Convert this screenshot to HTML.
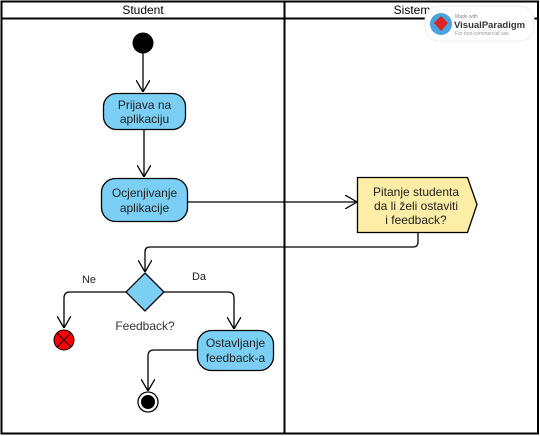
<!DOCTYPE html>
<html><head><meta charset="utf-8"><style>
html,body{margin:0;padding:0;background:#fff;}
svg{display:block;font-family:"Liberation Sans",Arial,sans-serif;}
</style></head><body>
<svg width="540" height="436" viewBox="0 0 540 436" xmlns="http://www.w3.org/2000/svg">
<defs>
<marker id="a" viewBox="0 0 12 14" refX="12" refY="7" markerWidth="12" markerHeight="14" markerUnits="userSpaceOnUse" orient="auto">
<path d="M0,0 L12,7 L0,14" fill="none" stroke="#000" stroke-width="1.3"/>
</marker>
</defs>
<rect x="1.5" y="1.5" width="536.5" height="432" fill="#fff" stroke="#000" stroke-width="2"/>
<line x1="1" y1="18.5" x2="538" y2="18.5" stroke="#000" stroke-width="2"/>
<line x1="284.5" y1="1" x2="284.5" y2="434" stroke="#000" stroke-width="2"/>
<text x="143" y="14" font-size="12" text-anchor="middle">Student</text>
<text x="412" y="14" font-size="12" text-anchor="middle">Sistem</text>

<!-- start -->
<circle cx="143" cy="43" r="10.5" fill="#000"/>
<line x1="143" y1="53" x2="143" y2="92" stroke="#000" stroke-width="1.3" marker-end="url(#a)"/>
<rect x="103.5" y="93.5" width="82" height="36" rx="13" fill="#7ccff4" stroke="#000" stroke-width="1.3"/>
<text x="144.5" y="109" font-size="12" text-anchor="middle" fill="#222">Prijava na</text>
<text x="144.5" y="123" font-size="12" text-anchor="middle" fill="#222">aplikaciju</text>
<line x1="144" y1="130" x2="144" y2="177" stroke="#000" stroke-width="1.3" marker-end="url(#a)"/>
<rect x="101.5" y="178.5" width="86" height="43" rx="14" fill="#7ccff4" stroke="#000" stroke-width="1.3"/>
<text x="144.5" y="197" font-size="12" text-anchor="middle" fill="#222">Ocjenjivanje</text>
<text x="144.5" y="212" font-size="12" text-anchor="middle" fill="#222">aplikacije</text>
<line x1="188" y1="202" x2="357" y2="202" stroke="#000" stroke-width="1.3" marker-end="url(#a)"/>

<!-- yellow -->
<path d="M357.5,177.5 H467.5 L477,204.5 L467.5,232.5 H357.5 Z" fill="#fceea6" stroke="#000" stroke-width="1.3"/>
<text x="416" y="196" font-size="12" text-anchor="middle" fill="#222">Pitanje studenta</text>
<text x="416" y="210" font-size="12" text-anchor="middle" fill="#222">da li želi ostaviti</text>
<text x="416" y="224" font-size="12" text-anchor="middle" fill="#222">i feedback?</text>
<path d="M418,233 V242 Q418,247 413,247 H150 Q145,247 145,252 V272" fill="none" stroke="#000" stroke-width="1.3" marker-end="url(#a)"/>

<!-- decision -->
<path d="M145,273 L164,292 L145,311 L126,292 Z" fill="#7ccff4" stroke="#000" stroke-width="1.3"/>
<text x="89" y="283" font-size="11" text-anchor="middle" fill="#222">Ne</text>
<text x="199" y="280" font-size="11" text-anchor="middle" fill="#222">Da</text>
<text x="145" y="330" font-size="12" text-anchor="middle" fill="#333">Feedback?</text>
<path d="M126,292 H70 Q64,292 64,298 V328" fill="none" stroke="#000" stroke-width="1.3" marker-end="url(#a)"/>
<circle cx="64" cy="340" r="10" fill="#f00" stroke="#000" stroke-width="1"/>
<line x1="57" y1="333" x2="71" y2="347" stroke="#000" stroke-width="1"/>
<line x1="71" y1="333" x2="57" y2="347" stroke="#000" stroke-width="1"/>
<path d="M164,292 H228 Q234,292 234,298 V329" fill="none" stroke="#000" stroke-width="1.3" marker-end="url(#a)"/>
<rect x="197.5" y="330.5" width="76" height="40" rx="14" fill="#7ccff4" stroke="#000" stroke-width="1.3"/>
<text x="235.5" y="347" font-size="12" text-anchor="middle" fill="#222">Ostavljanje</text>
<text x="235.5" y="362" font-size="12" text-anchor="middle" fill="#222">feedback-a</text>
<path d="M197,350 H154 Q148,350 148,356 V391" fill="none" stroke="#000" stroke-width="1.3" marker-end="url(#a)"/>
<circle cx="148" cy="402" r="10" fill="#fff" stroke="#000" stroke-width="1.3"/>
<circle cx="148" cy="402" r="7" fill="#000"/>

<!-- watermark -->
<rect x="425" y="6" width="109" height="35" rx="14" fill="#fff" stroke="#eee"/>
<circle cx="441" cy="24" r="11" fill="#4aa3df"/>
<path d="M441,16 L448,23 L441,31 L434,23 Z" fill="#d22"/>
<text x="455" y="18" font-size="5" fill="#888">Made with</text>
<text x="454" y="28" font-size="9.5" font-weight="bold" fill="#333">VisualParadigm</text>
<text x="455" y="35" font-size="5" fill="#999">For non-commercial use</text>
</svg>
</body></html>
